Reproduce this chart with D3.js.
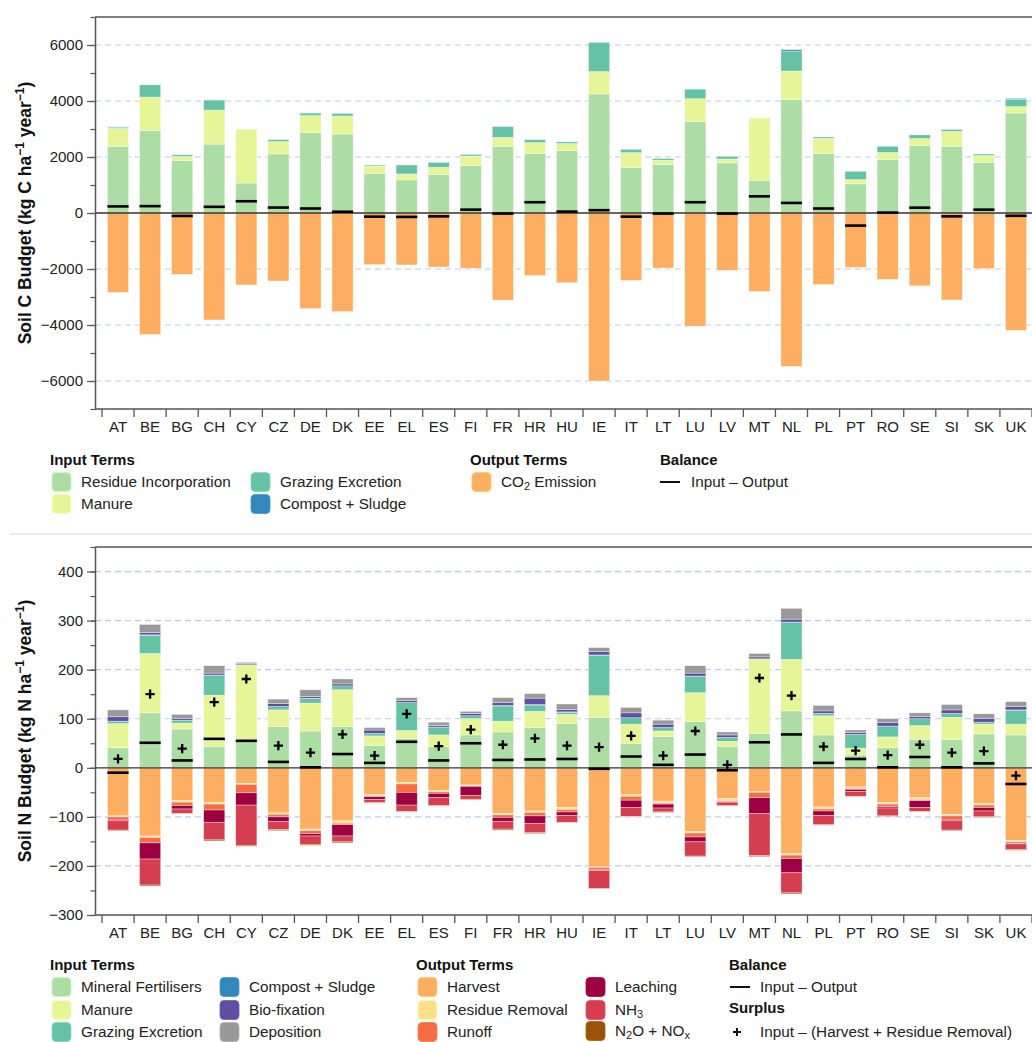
<!DOCTYPE html>
<html>
<head>
<meta charset="utf-8">
<script src="https://cdn.jsdelivr.net/npm/d3@7"></script>
<style>
  body { margin: 0; background: #fff; }
  svg { display: block; font-family: "Liberation Sans", Arial, Helvetica, sans-serif; }
</style>
</head>
<body>
<svg id="chart" width="1032" height="1042"></svg>
<script>
// ---- Countries ----
const countries = ["AT","BE","BG","CH","CY","CZ","DE","DK","EE","EL","ES","FI","FR","HR","HU",
                   "IE","IT","LT","LU","LV","MT","NL","PL","PT","RO","SE","SI","SK","UK"];

// ---- Soil C budget (kg C ha-1 year-1) ----
const cResidue  = [2380,2940,1870,2460,1070,2110,2870,2820,1420,1180,1370,1690,2380,2130,2230,
                   4250,1630,1740,3260,1790,1170,4060,2120,1040,1920,2410,2380,1800,3570];
const cManure   = [ 640,1200, 150,1215,1920, 440, 610, 645, 260, 215, 260, 345, 320, 385, 250,
                    800, 525, 145, 820, 140,2225,1010, 545, 155, 240, 250, 535, 250, 230];
const cGrazing  = [  45, 440,  60, 360,   0,  70,  90,  95,  35, 320, 180,  60, 385, 105,  60,
                   1045, 120,  60, 345,  95,   0, 715,  50, 295, 225, 130,  70,  55, 260];
const cCompost  = [  10,   5,   5,   5,   0,   5,   5,   5,   0,   0,   0,   0,   5,   0,   0,
                      5,   0,   0,   5,   0,   0,  50,   0,   0,   0,   0,   0,   0,  30];
const cCO2      = [2840,4340,2190,3820,2570,2430,3415,3520,1845,1855,1930,1975,3110,2235,2490,
                   6000,2405,1965,4045,2045,2800,5475,2555,1940,2370,2600,3105,1985,4190];

// ---- Soil N budget (kg N ha-1 year-1) ----
const nMineral  = [ 41,112, 79, 44, 56, 84, 75, 84, 45, 60, 43, 67, 73, 82, 90,
                   103, 49, 64, 94, 44, 70,116, 67, 26, 41, 58, 58, 69, 67];
const nManure   = [ 49,121, 12,104,154, 34, 57, 75, 20, 16, 24, 33, 22, 33, 19,
                    44, 40, 11, 59, 10,152,105, 39, 14, 22, 28, 45, 20, 22];
const nGrazing  = [  4, 37,  6, 40,  0,  7,  9,  8,  5, 57, 16,  6, 31, 13,  4,
                    82, 13,  7, 33,  8,  0, 75,  5, 28, 22, 14,  8,  4, 28];
const nCompost  = [  1,  1,  0,  1,  0,  0,  1,  0,  0,  0,  0,  0,  1,  1,  1,
                     1,  0,  0,  1,  0,  0,  1,  0,  0,  0,  0,  0,  0,  1];
const nBiofix   = [  9,  5,  4,  4,  3,  6,  3,  4,  7,  4,  3,  5,  6, 13,  5,
                     7, 10,  7,  6,  5,  4,  6,  5,  4,  7,  5,  7,  8,  7];
const nDeposit  = [ 14, 16,  8, 15,  2,  9, 14, 10,  5,  6,  7,  4, 10,  9, 11,
                     8, 11,  8, 15,  6,  7, 22, 11,  5,  8,  7, 11,  9, 10];
const nHarvest  = [ 98,139, 67, 71, 32, 92,125,108, 54, 30, 46, 35, 93, 88, 81,
                   202, 54, 68,130, 63, 49,175, 80, 39, 71, 61, 95, 73,148];
const nResidueR = [  2,  3,  3,  3,  2,  3,  3,  5,  3,  3,  3,  2,  3,  3,  4,
                     1,  4,  4,  3,  4,  1,  3,  4,  3,  3,  4,  3,  3,  3];
const nRunoff   = [  5, 11,  7, 12, 17,  5,  6,  3,  2, 17,  3,  1,  5,  7,  5,
                     5,  8,  2,  8,  2, 11,  7,  4,  2,  5,  2,  7,  5,  3];
const nLeaching = [  3, 33,  7, 25, 25, 10,  5, 23,  6, 26,  9, 18,  8, 16,  7,
                     1, 15,  8, 10,  1, 32, 29,  9,  4,  3, 14,  3,  7,  1];
const nNH3      = [ 19, 53,  9, 36, 82, 16, 17, 12,  6, 13, 16,  8, 16, 18, 14,
                    37, 18,  8, 29,  7, 86, 41, 19, 10, 16,  8, 19, 12, 12];
const nN2O      = [  1,  2,  1,  2,  2,  2,  2,  2,  1,  1,  1,  1,  2,  2,  1,
                     1,  1,  1,  1,  1,  2,  2,  1,  1,  1,  1,  1,  1,  1];

// ---- Axis ticks ----
const cMajorTicks = [-6000,-4000,-2000,0,2000,4000,6000];
const cMinorTicks = d3.range(-7000, 7001, 1000);
const nMajorTicks = [-300,-200,-100,0,100,200,300,400];
const nMinorTicks = d3.range(-300, 451, 50);

// ---- Colours ----
const COL = {
  residue: "#abdda4", manure: "#e6f598", grazing: "#66c2a5", compost: "#3288bd",
  biofix: "#5e4fa2", deposit: "#999999", harvest: "#fdae61", residueR: "#fee08b",
  runoff: "#f46d43", leaching: "#9e0142", nh3: "#d53e4f", n2o: "#995208"
};

const svg = d3.select("#chart");
const X0 = 95, XR = 1032;
const FONT = "Liberation Sans, Arial, sans-serif";

const x = d3.scaleBand().domain(countries).range([102, 1032])
  .paddingInner(0.34).paddingOuter(0.17);
const bw = x.bandwidth();

function drawPanel(cfg) {
  const g = svg.append("g");
  const y = d3.scaleLinear().domain(cfg.domain).range([cfg.bottom, cfg.top]);

  // dashed grid
  g.append("g").selectAll("line")
    .data(cfg.major.filter(v => v !== 0 && v !== cfg.domain[0]))
    .join("line")
    .attr("x1", X0).attr("x2", XR)
    .attr("y1", d => y(d)).attr("y2", d => y(d))
    .attr("stroke", "#bccaf3").attr("stroke-width", 1.2)
    .attr("stroke-dasharray", "6,4");

  const idx = countries.map((c, i) => i);
  const stackOf = series => d3.stack()
    .keys(series.map((s, k) => k))
    .value((i, k) => series[k].values[i])(idx);

  const inStack = stackOf(cfg.inputs);
  const outStack = stackOf(cfg.outputs);

  const bars = g.append("g");
  inStack.forEach((layer, k) => {
    bars.append("g").selectAll("rect").data(layer).join("rect")
      .attr("x", (d, i) => x(countries[i]))
      .attr("width", bw)
      .attr("y", d => y(d[1]))
      .attr("height", d => Math.max(0, y(d[0]) - y(d[1])))
      .attr("fill", cfg.inputs[k].color)
      .attr("stroke", "#fff").attr("stroke-width", 0.6).attr("stroke-opacity", 0.6);
  });
  outStack.forEach((layer, k) => {
    bars.append("g").selectAll("rect").data(layer).join("rect")
      .attr("x", (d, i) => x(countries[i]))
      .attr("width", bw)
      .attr("y", d => y(-d[0]))
      .attr("height", d => Math.max(0, y(-d[1]) - y(-d[0])))
      .attr("fill", cfg.outputs[k].color)
      .attr("stroke", "#fff").attr("stroke-width", 0.6).attr("stroke-opacity", 0.6);
  });

  // zero line
  g.append("line").attr("x1", X0).attr("x2", XR)
    .attr("y1", y(0)).attr("y2", y(0))
    .attr("stroke", "#333").attr("stroke-width", 1.3);

  const totIn = idx.map(i => d3.sum(cfg.inputs, s => s.values[i]));
  const totOut = idx.map(i => d3.sum(cfg.outputs, s => s.values[i]));
  const balance = idx.map(i => totIn[i] - totOut[i]);

  // balance markers
  g.append("g").selectAll("line").data(balance).join("line")
    .attr("x1", (d, i) => x(countries[i]))
    .attr("x2", (d, i) => x(countries[i]) + bw)
    .attr("y1", d => y(d)).attr("y2", d => y(d))
    .attr("stroke", "#000").attr("stroke-width", 2.6);

  // surplus markers
  if (cfg.surplusOut) {
    const surplus = idx.map(i => totIn[i] - d3.sum(cfg.surplusOut, s => s[i]));
    g.append("g").selectAll("path").data(surplus).join("path")
      .attr("transform", (d, i) => `translate(${x(countries[i]) + bw / 2},${y(d)})`)
      .attr("d", "M-4.6,0H4.6M0,-4.6V4.6")
      .attr("stroke", "#000").attr("stroke-width", 2.3).attr("fill", "none");
  }

  // frame lines
  g.append("line").attr("x1", X0).attr("x2", XR).attr("y1", cfg.top).attr("y2", cfg.top)
    .attr("stroke", "#555").attr("stroke-width", 1.5);
  g.append("line").attr("x1", X0).attr("x2", XR).attr("y1", cfg.bottom).attr("y2", cfg.bottom)
    .attr("stroke", "#555").attr("stroke-width", 1.5);

  // y axis: minor then major ticks
  const minorAx = g.append("g").attr("transform", `translate(${X0},0)`)
    .call(d3.axisLeft(y).tickValues(cfg.minor).tickSize(4.5).tickSizeOuter(0).tickFormat(""));
  minorAx.selectAll("line").attr("stroke", "#555").attr("stroke-width", 1.2);
  minorAx.select(".domain").attr("stroke", "#555").attr("stroke-width", 1.5);

  const majorAx = g.append("g").attr("transform", `translate(${X0},0)`)
    .call(d3.axisLeft(y).tickValues(cfg.major).tickSize(8).tickPadding(4)
      .tickSizeOuter(0).tickFormat(d3.format("d")));
  majorAx.select(".domain").remove();
  majorAx.selectAll("line").attr("stroke", "#555").attr("stroke-width", 1.2);
  majorAx.selectAll("text").attr("font-size", 15).attr("fill", "#222").attr("font-family", FONT);

  // x axis: labels centred on bands, ticks at band edges
  const xAx = g.append("g").attr("transform", `translate(0,${cfg.bottom})`)
    .call(d3.axisBottom(x).tickSize(0).tickPadding(12.5));
  xAx.select(".domain").remove();
  xAx.selectAll("text").attr("font-size", 15).attr("fill", "#222").attr("font-family", FONT);
  const edge = x.step() * x.paddingInner() / 2;
  const edges = countries.map(c => x(c) - edge).concat([x(countries[countries.length - 1]) + bw + edge]);
  g.append("g").selectAll("line").data(edges).join("line")
    .attr("x1", d => d).attr("x2", d => d)
    .attr("y1", cfg.bottom).attr("y2", cfg.bottom + 8)
    .attr("stroke", "#555").attr("stroke-width", 1.3);

  // y title
  const t = g.append("text")
    .attr("transform", `translate(31,${(cfg.top + cfg.bottom) / 2}) rotate(-90)`)
    .attr("text-anchor", "middle")
    .attr("font-size", 17.5).attr("font-weight", "bold").attr("fill", "#111");
  t.append("tspan").text(cfg.title);
  t.append("tspan").attr("dy", -7).attr("font-size", 12).text("\u22121");
  t.append("tspan").attr("dy", 7).text(" year");
  t.append("tspan").attr("dy", -7).attr("font-size", 12).text("\u22121");
  t.append("tspan").attr("dy", 7).text(")");
}

// ---- Legend helpers ----
function legendTitle(xp, yp, text) {
  svg.append("text").attr("x", xp).attr("y", yp)
    .attr("font-size", 15).attr("font-weight", "bold").attr("fill", "#111").text(text);
}
// parts: plain strings, or { sub: "2" } for a subscript
function legendLabel(xp, yc, parts) {
  const t = svg.append("text").attr("x", xp).attr("y", yc + 5.3)
    .attr("font-size", 15.3).attr("fill", "#222");
  let shifted = false;
  parts.forEach(p => {
    if (typeof p === "string") {
      const s = t.append("tspan").text(p);
      if (shifted) { s.attr("dy", -3); shifted = false; }
    } else {
      t.append("tspan").attr("dy", shifted ? 0 : 3).attr("font-size", 11).text(p.sub);
      shifted = true;
    }
  });
}
function legendSwatch(xp, yc, color, parts) {
  svg.append("rect").attr("x", xp).attr("y", yc - 9.5).attr("width", 19).attr("height", 19)
    .attr("rx", 4).attr("fill", color)
    .attr("stroke", d3.color(color).brighter(0.4)).attr("stroke-width", 0.8);
  legendLabel(xp + 29, yc, parts);
}

// ---- Soil C panel ----
drawPanel({
  domain: [-7000, 7000], top: 17, bottom: 409,
  major: cMajorTicks, minor: cMinorTicks,
  title: "Soil C Budget (kg C ha",
  inputs: [
    { values: cResidue, color: COL.residue },
    { values: cManure, color: COL.manure },
    { values: cGrazing, color: COL.grazing },
    { values: cCompost, color: COL.compost }
  ],
  outputs: [
    { values: cCO2, color: COL.harvest }
  ]
});

// ---- Soil N panel ----
drawPanel({
  domain: [-300, 450], top: 547, bottom: 915,
  major: nMajorTicks, minor: nMinorTicks,
  title: "Soil N Budget (kg N ha",
  inputs: [
    { values: nMineral, color: COL.residue },
    { values: nManure, color: COL.manure },
    { values: nGrazing, color: COL.grazing },
    { values: nCompost, color: COL.compost },
    { values: nBiofix, color: COL.biofix },
    { values: nDeposit, color: COL.deposit }
  ],
  outputs: [
    { values: nHarvest, color: COL.harvest },
    { values: nResidueR, color: COL.residueR },
    { values: nRunoff, color: COL.runoff },
    { values: nLeaching, color: COL.leaching },
    { values: nNH3, color: COL.nh3 },
    { values: nN2O, color: COL.n2o }
  ],
  surplusOut: [nHarvest, nResidueR]
});

// separator between panels
svg.append("line").attr("x1", 10).attr("x2", 1032).attr("y1", 534).attr("y2", 534)
  .attr("stroke", "#e4e4e4").attr("stroke-width", 1.5);

// ---- Soil C legend ----
legendTitle(50, 465, "Input Terms");
legendSwatch(52, 482, COL.residue, ["Residue Incorporation"]);
legendSwatch(52, 504, COL.manure, ["Manure"]);
legendSwatch(251, 482, COL.grazing, ["Grazing Excretion"]);
legendSwatch(251, 504, COL.compost, ["Compost + Sludge"]);
legendTitle(470, 465, "Output Terms");
legendSwatch(472, 482, COL.harvest, ["CO", { sub: "2" }, " Emission"]);
legendTitle(660, 465, "Balance");
svg.append("line").attr("x1", 660).attr("x2", 680).attr("y1", 482).attr("y2", 482)
  .attr("stroke", "#111").attr("stroke-width", 2);
legendLabel(691, 482, ["Input \u2013 Output"]);

// ---- Soil N legend ----
legendTitle(50, 970, "Input Terms");
legendSwatch(52, 987, COL.residue, ["Mineral Fertilisers"]);
legendSwatch(52, 1010, COL.manure, ["Manure"]);
legendSwatch(52, 1032, COL.grazing, ["Grazing Excretion"]);
legendSwatch(220, 987, COL.compost, ["Compost + Sludge"]);
legendSwatch(220, 1010, COL.biofix, ["Bio-fixation"]);
legendSwatch(220, 1032, COL.deposit, ["Deposition"]);
legendTitle(416, 970, "Output Terms");
legendSwatch(418, 987, COL.harvest, ["Harvest"]);
legendSwatch(418, 1010, COL.residueR, ["Residue Removal"]);
legendSwatch(418, 1032, COL.runoff, ["Runoff"]);
legendSwatch(586, 987, COL.leaching, ["Leaching"]);
legendSwatch(586, 1010, COL.nh3, ["NH", { sub: "3" }]);
legendSwatch(586, 1031, COL.n2o, ["N", { sub: "2" }, "O + NO", { sub: "x" }]);
legendTitle(729, 970, "Balance");
svg.append("line").attr("x1", 730).attr("x2", 750).attr("y1", 987).attr("y2", 987)
  .attr("stroke", "#111").attr("stroke-width", 2);
legendLabel(760, 987, ["Input \u2013 Output"]);
legendTitle(729, 1013, "Surplus");
svg.append("path").attr("transform", "translate(737,1032)")
  .attr("d", "M-4,0H4M0,-4V4").attr("stroke", "#111").attr("stroke-width", 2).attr("fill", "none");
legendLabel(760, 1032, ["Input \u2013 (Harvest + Residue Removal)"]);
</script>
</body>
</html>
